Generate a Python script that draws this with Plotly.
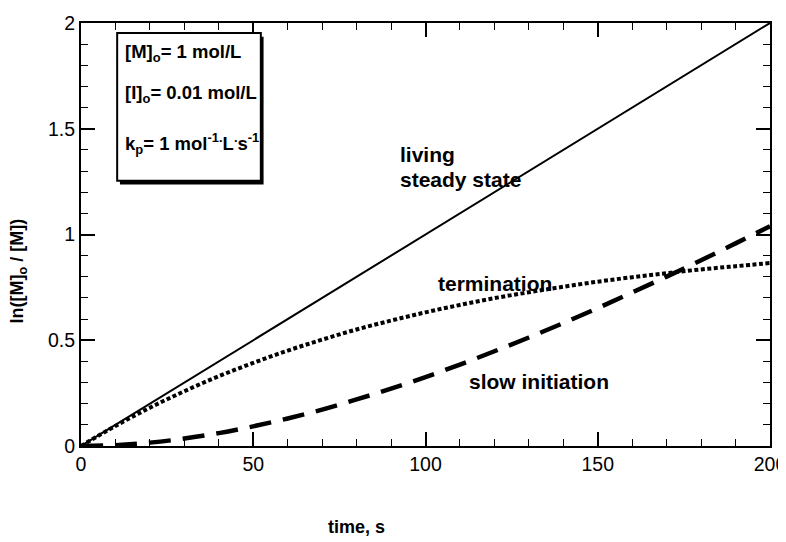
import plotly.graph_objects as go

# time grid (s)
time_s = [0, 10, 20, 30, 40, 50, 60, 70, 80, 90, 100, 110, 120, 130, 140, 150, 160, 170, 180, 190, 200]
# living / steady state
living = [0, 0.1, 0.2, 0.3, 0.4, 0.5, 0.6, 0.7, 0.8, 0.9, 1.0, 1.1, 1.2, 1.3, 1.4, 1.5, 1.6, 1.7, 1.8, 1.9, 2.0]
# termination
termination = [0, 0.095, 0.181, 0.259, 0.330, 0.393, 0.451, 0.503, 0.551, 0.593, 0.632,
               0.667, 0.699, 0.727, 0.753, 0.777, 0.798, 0.817, 0.835, 0.850, 0.865]
# slow initiation
slow_init = [0, 0.004, 0.016, 0.035, 0.061, 0.093, 0.130, 0.172, 0.220, 0.271, 0.326,
             0.385, 0.448, 0.513, 0.581, 0.652, 0.726, 0.801, 0.878, 0.958, 1.039]

FONT = "Liberation Sans, Arial, Helvetica, sans-serif"

fig = go.Figure()
fig.add_trace(go.Scatter(x=time_s, y=living, mode="lines",
                         line=dict(color="black", width=2), showlegend=False))
fig.add_trace(go.Scatter(x=time_s, y=termination, mode="lines", line_shape="spline",
                         line=dict(color="black", width=4, dash="4px,2.5px"), showlegend=False))
fig.add_trace(go.Scatter(x=time_s, y=slow_init, mode="lines", line_shape="spline",
                         line=dict(color="black", width=4.5, dash="22px,12px"), showlegend=False))

axis_common = dict(showline=True, linecolor="black", linewidth=2, mirror="allticks",
                   ticks="inside", ticklen=14, tickwidth=1.5, tickcolor="black",
                   showgrid=False, zeroline=False, ticklabeloverflow="allow",
                   tickfont=dict(family=FONT, size=19.5, color="black"))

fig.update_xaxes(range=[0, 200], dtick=50, tick0=0,
                 minor=dict(ticks="inside", ticklen=7, dtick=10, tickwidth=1.2, tickcolor="black"),
                 **axis_common)
fig.update_yaxes(range=[0, 2], dtick=0.5, tick0=0,
                 minor=dict(ticks="inside", ticklen=7, dtick=0.1, tickwidth=1.2, tickcolor="black"),
                 **axis_common)

# axis titles (placed as in the reference, off-centre)
fig.add_annotation(x=80, y=0, xref="x", yref="paper", yshift=-81,
                   text="<b>time, s</b>", showarrow=False, xanchor="center", yanchor="middle",
                   font=dict(family=FONT, size=18, color="black"))
fig.add_annotation(x=0, y=0.825, xref="paper", yref="y", xshift=-62, textangle=-90,
                   text="<b>ln([M]<sub>o</sub> / [M])</b>", showarrow=False,
                   xanchor="center", yanchor="middle",
                   font=dict(family=FONT, size=18, color="black"))

# parameter box with shadow
fig.add_shape(type="rect", xref="x", yref="y", x0=11.3, x1=53.0, y0=1.236, y1=1.935,
              fillcolor="black", line=dict(color="black", width=0), layer="above")
fig.add_shape(type="rect", xref="x", yref="y", x0=10.5, x1=52.2, y0=1.254, y1=1.953,
              fillcolor="white", line=dict(color="black", width=2), layer="above")

box_lines = [
    ("[M]<sub>o</sub>= 1 mol/L", 1.86),
    ("[I]<sub>o</sub>= 0.01 mol/L", 1.664),
    ("k<sub>p</sub>= 1 mol<sup>-1.</sup>L<sup>.</sup>s<sup>-1</sup>", 1.43),
]
for txt, yy in box_lines:
    fig.add_annotation(x=12.2, y=yy, xref="x", yref="y", text="<b>" + txt + "</b>",
                       showarrow=False, xanchor="left", yanchor="middle",
                       font=dict(family=FONT, size=18.5, color="black"))

labels = [
    ("living", 92, 1.38),
    ("steady state", 92, 1.26),
    ("termination", 103, 0.77),
    ("slow initiation", 112, 0.305),
]
for txt, xx, yy in labels:
    fig.add_annotation(x=xx, y=yy, xref="x", yref="y", text="<b>" + txt + "</b>",
                       showarrow=False, xanchor="left", yanchor="middle", align="left",
                       font=dict(family=FONT, size=21, color="black"))

fig.update_layout(width=786, height=542, plot_bgcolor="white", paper_bgcolor="white",
                  margin=dict(l=73, r=24, t=4, b=104), showlegend=False)

fig.write_html("out.html")
